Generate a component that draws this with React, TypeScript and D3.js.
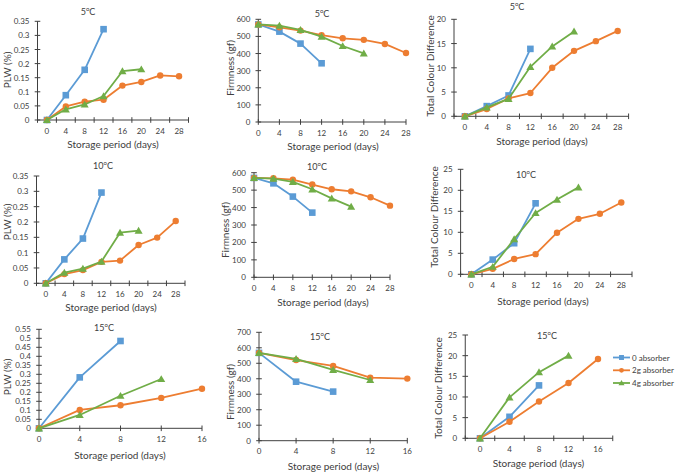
import React from "react";
import * as d3 from "d3";

// ---------- categories ----------
const days28 = ["0", "4", "8", "12", "16", "20", "24", "28"];
const days16 = ["0", "4", "8", "12", "16"];

// ---------- tick labels ----------
const plwTicks35 = [0, 0.05, 0.1, 0.15, 0.2, 0.25, 0.3, 0.35];
const plwTicks55 = [0, 0.05, 0.1, 0.15, 0.2, 0.25, 0.3, 0.35, 0.4, 0.45, 0.5, 0.55];
const firmTicks600 = [0, 100, 200, 300, 400, 500, 600];
const firmTicks700 = [0, 100, 200, 300, 400, 500, 600, 700];
const tcdTicks20 = [0, 5, 10, 15, 20];
const tcdTicks25 = [0, 5, 10, 15, 20, 25];

// ---------- series ----------
const seriesNames = ["0 absorber", "2g absorber", "4g absorber"];

const PLW5_0 = [0, 0.088, 0.178, 0.322];
const PLW5_2 = [0, 0.048, 0.065, 0.072, 0.122, 0.135, 0.158, 0.155];
const PLW5_4 = [0, 0.038, 0.055, 0.085, 0.173, 0.18];

const FIRM5_0 = [570, 528, 458, 343];
const FIRM5_2 = [570, 553, 534, 507, 489, 480, 456, 403];
const FIRM5_4 = [570, 563, 538, 499, 444, 401];

const TCD5_0 = [0, 2.1, 4.3, 13.9];
const TCD5_2 = [0, 1.5, 3.7, 4.8, 10.0, 13.5, 15.5, 17.6];
const TCD5_4 = [0, 1.85, 3.6, 10.2, 14.4, 17.5];

const PLW10_0 = [0, 0.078, 0.146, 0.296];
const PLW10_2 = [0, 0.03, 0.043, 0.07, 0.074, 0.125, 0.149, 0.203];
const PLW10_4 = [0, 0.035, 0.048, 0.071, 0.165, 0.172];

const FIRM10_0 = [570, 539, 463, 371];
const FIRM10_2 = [570, 568, 560, 532, 505, 493, 459, 411];
const FIRM10_4 = [570, 566, 547, 505, 453, 405];

const TCD10_0 = [0, 3.5, 7.4, 16.9];
const TCD10_2 = [0, 1.3, 3.65, 4.8, 9.9, 13.2, 14.4, 17.1];
const TCD10_4 = [0, 1.8, 8.4, 14.6, 17.8, 20.7];

const PLW15_0 = [0, 0.283, 0.485];
const PLW15_2 = [0, 0.102, 0.128, 0.169, 0.22];
const PLW15_4 = [0, 0.074, 0.181, 0.274];

const FIRM15_0 = [567, 381, 317];
const FIRM15_2 = [567, 521, 483, 407, 401];
const FIRM15_4 = [567, 528, 457, 392];

const TCD15_0 = [0, 5.2, 12.8];
const TCD15_2 = [0, 4.0, 8.9, 13.4, 19.2];
const TCD15_4 = [0, 9.9, 16.0, 20.0];

// ---------- styles ----------
const COLORS = ["#5B9BD5", "#ED7D31", "#70AD47"];
const FONT = "Lato, 'Open Sans', sans-serif";
const AXIS = "#404040";
const TXT = "#404040";

type Panel = {
  cats: string[];
  mode: "band" | "point";
  x0: number; x1: number; yTop: number; yBot: number;
  yTicks: number[];
  series: number[][];
  temp: string; tx: number; ty: number;
  ylabel: string; ylx: number; yly: number;
  xtx: number; xty: number;
};

const panels: Panel[] = [
  { cats: days28, mode: "band", x0: 37.5, x1: 188.5, yTop: 21.3, yBot: 120, yTicks: plwTicks35,
    series: [PLW5_0, PLW5_2, PLW5_4], temp: "5", tx: 88, ty: 11, ylabel: "PLW (%)", ylx: 7, yly: 70, xtx: 113, xty: 144 },
  { cats: days28, mode: "point", x0: 258.3, x1: 406, yTop: 19.3, yBot: 122, yTicks: firmTicks600,
    series: [FIRM5_0, FIRM5_2, FIRM5_4], temp: "5", tx: 322, ty: 13, ylabel: "Firmness (gf)", ylx: 230, yly: 68, xtx: 333, xty: 145.7 },
  { cats: days28, mode: "band", x0: 454, x1: 628.6, yTop: 19.3, yBot: 116.3, yTicks: tcdTicks20,
    series: [TCD5_0, TCD5_2, TCD5_4], temp: "5", tx: 517, ty: 6, ylabel: "Total Colour Difference", ylx: 430, yly: 66, xtx: 542, xty: 140.7 },

  { cats: days28, mode: "band", x0: 36.5, x1: 185, yTop: 176, yBot: 283.3, yTicks: plwTicks35,
    series: [PLW10_0, PLW10_2, PLW10_4], temp: "10", tx: 103, ty: 165, ylabel: "PLW (%)", ylx: 7, yly: 222, xtx: 111, xty: 306.7 },
  { cats: days28, mode: "point", x0: 254, x1: 390, yTop: 172.7, yBot: 277.3, yTicks: firmTicks600,
    series: [FIRM10_0, FIRM10_2, FIRM10_4], temp: "10", tx: 317, ty: 166, ylabel: "Firmness (gf)", ylx: 225, yly: 230, xtx: 323, xty: 301.7 },
  { cats: days28, mode: "band", x0: 460.6, x1: 632, yTop: 169.3, yBot: 274.3, yTicks: tcdTicks25,
    series: [TCD10_0, TCD10_2, TCD10_4], temp: "10", tx: 526, ty: 174, ylabel: "Total Colour Difference", ylx: 434, yly: 217, xtx: 543, xty: 300.7 },

  { cats: days16, mode: "point", x0: 39, x1: 202, yTop: 329.3, yBot: 428.3, yTicks: plwTicks55,
    series: [PLW15_0, PLW15_2, PLW15_4], temp: "15", tx: 104, ty: 327, ylabel: "PLW (%)", ylx: 7, yly: 377, xtx: 120, xty: 455 },
  { cats: days16, mode: "point", x0: 259, x1: 407.3, yTop: 332.3, yBot: 440.7, yTicks: firmTicks700,
    series: [FIRM15_0, FIRM15_2, FIRM15_4], temp: "15", tx: 320, ty: 336, ylabel: "Firmness (gf)", ylx: 230, yly: 392, xtx: 333.5, xty: 466 },
  { cats: days16, mode: "band", x0: 465.25, x1: 612.75, yTop: 335, yBot: 438.3, yTicks: tcdTicks25,
    series: [TCD15_0, TCD15_2, TCD15_4], temp: "15", tx: 547, ty: 335, ylabel: "Total Colour Difference", ylx: 438, yly: 388, xtx: 538.5, xty: 463 },
];

function Marker({ k, x, y, s = 1 }: { k: number; x: number; y: number; s?: number }) {
  const c = COLORS[k];
  if (k === 0) return <rect x={x - 3.3 * s} y={y - 3.3 * s} width={6.6 * s} height={6.6 * s} fill={c} />;
  if (k === 1) return <circle cx={x} cy={y} r={3.2 * s} fill={c} />;
  const p = d3.symbol().type(d3.symbolTriangle).size(28 * s * s)();
  return <path d={p || ""} transform={`translate(${x},${y + 0.8 * s})`} fill={c} />;
}

function Title({ x, y, t }: { x: number; y: number; t: string }) {
  return (
    <text x={x} y={y} fontSize={9} fill={TXT} textAnchor="middle" dominantBaseline="central" fontFamily={FONT}>
      {t}
      <tspan dy={-3} fontSize={6}>o</tspan>
      <tspan dy={3}>C</tspan>
    </text>
  );
}

function PanelView({ p }: { p: Panel }) {
  const y = d3.scaleLinear().domain([0, p.yTicks[p.yTicks.length - 1]]).range([p.yBot, p.yTop]);
  let xPos: (c: string) => number;
  let tickXs: number[];
  if (p.mode === "band") {
    const b = d3.scaleBand().domain(p.cats).range([p.x0, p.x1]).paddingInner(0).paddingOuter(0);
    xPos = (c) => (b(c) as number) + b.bandwidth() / 2;
    tickXs = p.cats.map((c) => b(c) as number).concat([p.x1]);
  } else {
    const s = d3.scalePoint().domain(p.cats).range([p.x0, p.x1]);
    xPos = (c) => s(c) as number;
    tickXs = p.cats.map((c) => s(c) as number);
  }
  const line = d3.line<[number, number]>();
  const fmt = (v: number) => String(+v.toFixed(2));
  return (
    <g>
      <line x1={p.x0} x2={p.x0} y1={p.yTop} y2={p.yBot} stroke={AXIS} strokeWidth={1} />
      {p.yTicks.map((t) => (
        <g key={"y" + t}>
          <line x1={p.x0 - 2.8} x2={p.x0 + 2.8} y1={y(t)} y2={y(t)} stroke={AXIS} strokeWidth={1} />
          <text x={p.x0 - 8} y={y(t)} fontSize={8} fill={TXT} textAnchor="end" dominantBaseline="central" fontFamily={FONT}>
            {fmt(t)}
          </text>
        </g>
      ))}
      <line x1={p.x0} x2={p.x1} y1={p.yBot} y2={p.yBot} stroke={AXIS} strokeWidth={1} />
      {tickXs.map((tx, i) => (
        <line key={"xt" + i} x1={tx} x2={tx} y1={p.yBot - 2.8} y2={p.yBot + 2.8} stroke={AXIS} strokeWidth={1} />
      ))}
      {p.cats.map((c) => (
        <text key={"xl" + c} x={xPos(c)} y={p.yBot + 10.5} fontSize={8} fill={TXT} textAnchor="middle" dominantBaseline="central" fontFamily={FONT}>
          {c}
        </text>
      ))}
      {p.series.map((vals, k) => {
        const pts: [number, number][] = vals.map((v, i) => [xPos(p.cats[i]), y(v)]);
        return (
          <g key={"s" + k}>
            <path d={line(pts) || ""} fill="none" stroke={COLORS[k]} strokeWidth={1.8} strokeLinejoin="round" />
            {pts.map((pt, i) => (
              <Marker key={i} k={k} x={pt[0]} y={pt[1]} />
            ))}
          </g>
        );
      })}
      <Title x={p.tx} y={p.ty} t={p.temp} />
      <text x={p.xtx} y={p.xty} fontSize={10} fill={TXT} textAnchor="middle" dominantBaseline="central" fontFamily={FONT}>
        Storage period (days)
      </text>
      <text transform={`translate(${p.ylx},${p.yly}) rotate(-90)`} fontSize={10} fill={TXT} textAnchor="middle" dominantBaseline="central" fontFamily={FONT}>
        {p.ylabel}
      </text>
    </g>
  );
}

export default function App() {
  const legendY = [357.5, 370.3, 383];
  return (
    <svg width={677} height={472} style={{ position: "absolute", left: 0, top: 0, background: "#fff" }}>
      <rect width={677} height={472} fill="#fff" />
      {panels.map((p, i) => (
        <PanelView key={i} p={p} />
      ))}
      {seriesNames.map((n, k) => (
        <g key={n}>
          <line x1={613} x2={630} y1={legendY[k]} y2={legendY[k]} stroke={COLORS[k]} strokeWidth={1.8} />
          <Marker k={k} x={621.5} y={legendY[k]} s={0.75} />
          <text x={632} y={legendY[k]} fontSize={8} fill={TXT} dominantBaseline="central" fontFamily={FONT}>
            {n}
          </text>
        </g>
      ))}
    </svg>
  );
}
